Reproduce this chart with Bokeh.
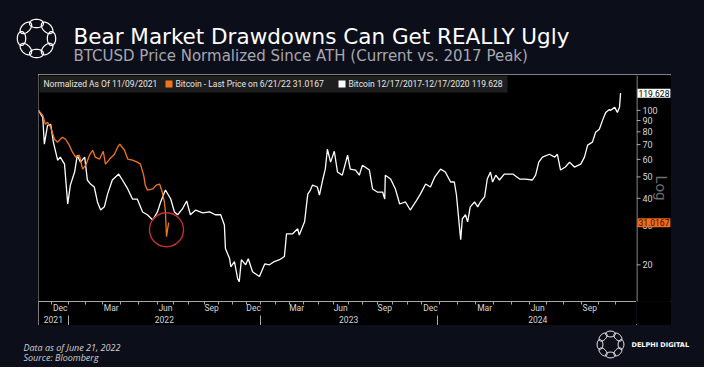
import math
from bokeh.plotting import figure
from bokeh.layouts import row, column
from bokeh.models import (Range1d, LinearAxis, FixedTicker, Label, BoxAnnotation, Span,
                          Spacer, LogScale)
from bokeh.core.properties import value
from bokeh.embed import file_html
from bokeh.resources import INLINE

# ---------------- data (x = days after the ATH of 11/09/2021, as placed on the chart) ----------
white_x = [0, 8, 11, 17, 23, 28, 36, 41, 49, 55,
           60, 68, 73, 79, 87, 92, 98, 105, 111, 117,
           124, 130, 139, 151, 158, 168, 177, 186, 196, 205,
           215, 224, 230, 239, 249, 256, 262, 271, 279, 286,
           296, 309, 322, 333, 343, 350, 352, 360, 362, 369,
           375, 378, 382, 390, 395, 403, 416, 426, 435, 444,
           454, 463, 467, 478, 488, 491, 501, 507, 512, 516,
           525, 529, 535, 540, 544, 550, 557, 563, 572, 582,
           587, 597, 604, 610, 623, 629, 638, 648, 652, 653,
           663, 672, 680, 691, 700, 710, 719, 729, 738, 746,
           757, 766, 776, 783, 787, 793, 795, 798, 804, 808,
           813, 821, 827, 832, 840, 845, 851, 855, 861, 868,
           877, 893, 906, 917, 930, 936, 942, 949, 962, 972,
           977, 983, 992, 1000, 1009, 1021, 1028, 1034, 1043, 1049,
           1056, 1062, 1068, 1075, 1077, 1085, 1090, 1094, 1096]
white_y = [100, 93.0, 70.3, 85.6, 86.5, 71.8, 59.5, 61.4, 57.1, 37.7,
           45.9, 52.6, 62.7, 58.3, 61.4, 48.4, 46.4, 45.0, 38.5, 35.4,
           36.6, 41.8, 48.4, 51.5, 48.4, 44.1, 39.7, 39.7, 34.7, 33.7,
           31.9, 34.7, 38.5, 43.6, 39.7, 34.7, 33.7, 35.8, 38.9, 33.7,
           35.4, 34.4, 34.7, 33.7, 33.7, 30.3, 23.7, 21.3, 19.6, 20.7,
           17.3, 16.8, 21.1, 20.0, 21.3, 18.6, 17.7, 20.2, 20.0, 20.7,
           21.1, 21.8, 27.6, 27.6, 29.1, 27.3, 31.3, 41.8, 43.6, 45.9,
           45.0, 41.4, 48.4, 54.2, 66.7, 58.3, 65.3, 52.6, 50.9, 62.7,
           54.2, 53.7, 50.9, 56.5, 53.7, 44.1, 42.7, 42.7, 39.7, 50.9,
           48.9, 44.1, 37.7, 38.5, 35.4, 38.5, 41.8, 46.4, 45.0, 49.9,
           54.2, 52.6, 47.4, 47.4, 41.4, 29.1, 26.0, 32.3, 33.7, 31.3,
           36.6, 38.5, 36.6, 38.5, 40.6, 48.9, 52.6, 47.4, 50.9, 48.4,
           51.5, 51.5, 48.9, 48.9, 48.4, 50.9, 58.3, 61.4, 63.3, 61.4,
           63.3, 53.7, 55.4, 58.3, 55.4, 57.1, 61.4, 69.6, 71.8, 79.6,
           82.1, 90.1, 97.9, 101.0, 100.0, 103.2, 97.9, 103.2, 119.628]

orange_x = [0, 8, 13, 17, 23, 30, 36, 45, 51, 58,
            64, 70, 77, 83, 89, 96, 102, 107, 115, 122,
            126, 134, 143, 149, 153, 162, 168, 177, 186, 192,
            198, 201, 205, 215, 222, 228, 233, 237, 239, 241, 245]
orange_y = [100, 94.9, 86.5, 88.3, 83.8, 74.0, 71.8, 75.6, 74.0, 69.6,
            64.7, 61.4, 62.7, 54.2, 56.5, 62.7, 66.0, 61.4, 60.2, 65.3,
            57.1, 60.2, 63.3, 68.1, 70.3, 66.0, 60.2, 59.5, 58.3, 57.1,
            50.9, 45.9, 43.6, 44.1, 45.9, 46.4, 42.7, 38.5, 34.7, 26.8, 31.0167]

month_tick_x = [41, 137, 239, 326, 405, 486, 569, 652, 738, 840, 940, 1038]
month_labels = ["Dec", "Mar", "Jun", "Sep", "Dec", "Mar", "Jun", "Sep", "Dec", "Mar", "Jun", "Sep"]
year_tick_x = [28, 237, 584, 940]
year_labels = ["2021", "2022", "2023", "2024"]
year_breaks = [56, 418, 751]
y_ticks = [20, 30, 40, 50, 60, 70, 80, 90, 100]

title_text = "Bear Market Drawdowns Can Get REALLY Ugly"
subtitle_text = "BTCUSD Price Normalized Since ATH (Current vs. 2017 Peak)"
legend_head = "Normalized As Of 11/09/2021"
orange_name = "Bitcoin - Last Price on 6/21/22 31.0167"
white_name = "Bitcoin 12/17/2017-12/17/2020 119.628"
footer_1 = "Data as of  June 21, 2022"
footer_2 = "Source:  Bloomberg"
brand = "DELPHI DIGITAL"

# ---------------- styling ----------------
BG = "#0c0e19"
ORANGE = "#f0761e"
TAG_ORANGE = "#f26a1b"
GRAY = "#a8a8a8"
TXT = "#d6d6d6"

FL, FB = 46, 310  # page position of chart frame left / bottom


def sx(X):
    return X - FL


def sy(Y):
    return FB - Y


def deco_fig(w, h, y0, y1):
    f = figure(width=w, height=h, x_range=Range1d(8, 712), y_range=Range1d(y1, y0),
               x_axis_location=None, y_axis_location=None, toolbar_location=None,
               output_backend="svg", min_border=0, background_fill_color=BG,
               border_fill_color=BG, outline_line_color=None)
    for g in f.grid:
        g.visible = False
    return f


def ring_logo(f, cx, cy, R, a, b, lw):
    ts = [2 * math.pi * j / 40 for j in range(41)]
    xs_all, ys_all = [], []
    for k in range(8):
        th = 2 * math.pi * k / 8
        ex, ey = cx + R * math.cos(th), cy + R * math.sin(th)
        tx, ty = -math.sin(th), math.cos(th)
        rx, ry = math.cos(th), math.sin(th)
        xs_all.append([ex + a * math.cos(t) * tx + b * math.sin(t) * rx for t in ts])
        ys_all.append([ey + a * math.cos(t) * ty + b * math.sin(t) * ry for t in ts])
    f.patches(xs_all, ys_all, fill_alpha=0, line_color="white", line_width=lw)


# ---------------- header ----------------
H = deco_fig(704, 74, 8, 82)
ring_logo(H, 44, 46, 15, 7, 4.2, 1.2)
H.add_layout(Label(x=81, y=44, text=title_text, text_font="DejaVu Sans", text_font_size="21.5px",
                   text_color="white", text_baseline="alphabetic"))
H.add_layout(Label(x=81, y=63, text=subtitle_text, text_font="DejaVu Sans",
                   text_font_size="15px", text_color="#a6a7b0", text_baseline="alphabetic"))

# ---------------- main chart ----------------
YR = Range1d(13.65, 143.8)
M = figure(width=598, height=251, x_range=Range1d(0, 1126), y_range=YR,
           y_axis_type="log", y_axis_location=None, output_backend="svg",
           toolbar_location=None, min_border_left=0, min_border_right=0,
           min_border_top=1, min_border_bottom=23,
           background_fill_color="black", border_fill_color="black", outline_line_color=None)
M.y_scale = LogScale()
for g in M.grid:
    g.visible = False

M.line(white_x, white_y, line_color="white", line_width=1.3)
M.line(orange_x, orange_y, line_color=ORANGE, line_width=1.3)

i_min = orange_y.index(min(orange_y))
M.circle(x=[orange_x[i_min]], y=[orange_y[i_min] * 1.075], radius=17, radius_units="screen",
         fill_color=None, line_color="#c62d2d", line_width=1.4)

month_bounds = []
for i in range(len(month_tick_x)):
    a = month_tick_x[i]
    b = month_tick_x[i + 1] if i + 1 < len(month_tick_x) else a + (a - month_tick_x[i - 1])
    step = (b - a) / 3.0
    for k in range(3):
        month_bounds.append(a + (k - 0.5) * step)
xa = M.xaxis[0]
xa.ticker = FixedTicker(ticks=month_tick_x, minor_ticks=month_bounds)
xa.major_label_overrides = {t: lab for t, lab in zip(month_tick_x, month_labels)}
xa.axis_line_color = GRAY
xa.major_tick_in = 0
xa.major_tick_out = 0
xa.minor_tick_in = 0
xa.minor_tick_out = 3
xa.minor_tick_line_color = GRAY
xa.major_label_standoff = -2
xa.major_label_text_font = "Roboto"
xa.major_label_text_font_size = "8.5px"
xa.major_label_text_color = TXT

xb = LinearAxis(ticker=FixedTicker(ticks=year_tick_x, minor_ticks=year_breaks),
                major_label_overrides={t: lab for t, lab in zip(year_tick_x, year_labels)},
                axis_line_color=None, major_tick_in=0, major_tick_out=0,
                minor_tick_in=0, minor_tick_out=11, minor_tick_line_color=GRAY,
                major_label_standoff=-11, major_label_text_font="Roboto",
                major_label_text_font_size="8.5px", major_label_text_color=TXT)
M.add_layout(xb, "below")

# legend strip
M.add_layout(BoxAnnotation(left=sx(47), right=sx(515), top=sy(84), bottom=sy(101),
                           left_units="screen", right_units="screen",
                           top_units="screen", bottom_units="screen",
                           fill_color="#1e1e1e", fill_alpha=1.0, line_color=None))
for xl, txt in [(51, legend_head), (183, orange_name), (356, white_name)]:
    M.add_layout(Label(x=sx(xl), y=sy(92.5), x_units="screen", y_units="screen", text=txt,
                       text_font="Roboto", text_font_size="8.5px", text_color="#e6e6e6",
                       text_baseline="middle"))
for xl, col in [(173, ORANGE), (346, "white")]:
    M.add_layout(BoxAnnotation(left=sx(xl), right=sx(xl + 7), top=sy(89), bottom=sy(96),
                               left_units="screen", right_units="screen",
                               top_units="screen", bottom_units="screen",
                               fill_color=col, fill_alpha=1.0, line_color=None))

# ---------------- right value axis strip ----------------
R = figure(width=35, height=251, x_range=Range1d(0, 35), y_range=YR, y_axis_type="log",
           x_axis_location=None, y_axis_location=None, output_backend="svg",
           toolbar_location=None, min_border_left=0, min_border_right=0,
           min_border_top=1, min_border_bottom=23,
           background_fill_color="black", border_fill_color="black", outline_line_color=None)
R.y_scale = LogScale()
for g in R.grid:
    g.visible = False
R.add_layout(Span(location=0.5, dimension="height", line_color=GRAY, line_width=1))
R.segment(x0=0, x1=4, y0=y_ticks, y1=y_ticks, line_color=GRAY, line_width=1)
R.text(x=6, y=y_ticks, text=[str(t) for t in y_ticks], text_font=value("Roboto"),
       text_font_size="9px", text_color=TXT, text_baseline="middle")
R.add_layout(Label(x=24, y=113.5, x_units="data", y_units="screen", text="Log",
                   angle=-math.pi / 2, text_font="Roboto", text_font_size="15px",
                   text_color="#6e6e6e", text_align="center", text_baseline="middle"))
R.add_layout(Label(x=1, y=white_y[-1], text=f"{white_y[-1]:.3f}", text_font="Roboto",
                   text_font_size="8.5px", text_color="black", text_baseline="middle",
                   background_fill_color="white", padding=1))
R.add_layout(Label(x=1, y=orange_y[-1], text=f"{orange_y[-1]:.4f}", text_font="Roboto",
                   text_font_size="8.5px", text_color="#3a1200", text_baseline="middle",
                   background_fill_color=TAG_ORANGE, padding=1))

# ---------------- footer ----------------
F = deco_fig(704, 42, 333, 375)
F.add_layout(Label(x=31, y=355, text=footer_1, text_font="Open Sans", text_font_style="italic",
                   text_font_size="9px", text_color="#d0d0d0", text_baseline="alphabetic"))
F.add_layout(Label(x=31, y=365, text=footer_2, text_font="Open Sans", text_font_style="italic",
                   text_font_size="9px", text_color="#d0d0d0", text_baseline="alphabetic"))
F.add_layout(Label(x=639, y=352, text=brand, text_font="DejaVu Sans", text_font_style="bold",
                   text_font_size="6.5px", text_color="white", text_baseline="middle"))
ring_logo(F, 618, 352, 10.5, 4.9, 2.9, 1.0)

chart = row(M, R, styles={"outline": "1px solid " + GRAY, "outline-offset": "-1px"})
mid = row(Spacer(width=38, height=251), chart, Spacer(width=33, height=251))
p = column(H, mid, F, styles={"background-color": BG})

open("out.html", "w").write(file_html(p, INLINE))
